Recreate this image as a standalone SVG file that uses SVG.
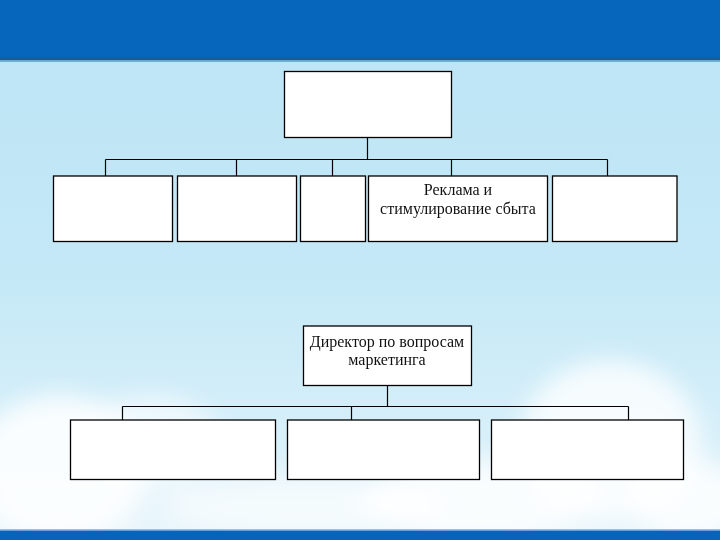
<svg xmlns="http://www.w3.org/2000/svg" width="720" height="540" viewBox="0 0 720 540">
  <defs>
    <linearGradient id="sky" x1="0" y1="0" x2="0" y2="1">
      <stop offset="0" stop-color="#BCE5F6"/>
      <stop offset="0.5" stop-color="#C4E8F6"/>
      <stop offset="0.75" stop-color="#D3EEF9"/>
      <stop offset="1" stop-color="#EAF6FB"/>
    </linearGradient>
    <filter id="blur" x="-30%" y="-30%" width="160%" height="160%">
      <feGaussianBlur stdDeviation="12"/>
    </filter>
    <style>
      .box { fill: #FFFFFF; stroke: #000000; stroke-width: 1.3; }
      .conn { fill: none; stroke: #000000; stroke-width: 1.2; }
      .lbl { font-family: "Liberation Serif", "Times New Roman", serif; font-size: 16px; fill: #111111; text-anchor: middle; }
    </style>
  </defs>

  <!-- background -->
  <rect x="0" y="0" width="720" height="540" fill="url(#sky)"/>
  <g fill="#FFFFFF" filter="url(#blur)">
    <ellipse cx="60" cy="470" rx="90" ry="75" opacity="0.85"/>
    <ellipse cx="150" cy="440" rx="70" ry="45" opacity="0.6"/>
    <ellipse cx="610" cy="440" rx="90" ry="80" opacity="0.8"/>
    <ellipse cx="480" cy="500" rx="120" ry="40" opacity="0.8"/>
    <ellipse cx="300" cy="505" rx="140" ry="30" opacity="0.6"/>
    <ellipse cx="690" cy="500" rx="60" ry="40" opacity="0.8"/>
  </g>
  <rect x="0" y="0" width="720" height="58" fill="#0566BC"/>
  <rect x="0" y="57.5" width="720" height="3" fill="#1A58A0"/>
  <rect x="0" y="60.5" width="720" height="1.5" fill="#6FB0DA"/>
  <rect x="0" y="529" width="720" height="1.5" fill="#8CC8E8"/>
  <rect x="0" y="530.5" width="720" height="9.5" fill="#0A62BA"/>

  <!-- connectors -->
  <g id="connectors" class="conn">
    <path d="M367.5 137.5 V159.5 M105.5 159.5 H607.5 M105.5 159.5 V176 M236.5 159.5 V176 M332.5 159.5 V176 M451.5 159.5 V176 M607.5 159.5 V176"/>
    <path d="M387.5 385.5 V406.5 M122.5 406.5 H628.5 M122.5 406.5 V420 M351.5 406.5 V420 M628.5 406.5 V420"/>
  </g>

  <!-- top level -->
  <g id="top">
    <rect class="box" x="284.5" y="71.5" width="167" height="66"/>
  </g>
  <g id="n1">
    <rect class="box" x="53.5" y="176" width="119" height="65.5"/>
  </g>
  <g id="n2">
    <rect class="box" x="177.5" y="176" width="119" height="65.5"/>
  </g>
  <g id="n3">
    <rect class="box" x="300.5" y="176" width="65" height="65.5"/>
  </g>
  <g id="n4">
    <rect class="box" x="368.5" y="176" width="179" height="65.5"/>
    <text class="lbl" x="458" y="195">Реклама и</text>
    <text class="lbl" x="458" y="214">стимулирование сбыта</text>
  </g>
  <g id="n5">
    <rect class="box" x="552.5" y="176" width="124.5" height="65.5"/>
  </g>

  <!-- bottom section -->
  <g id="director">
    <rect class="box" x="303.5" y="326" width="168" height="59.5"/>
    <text class="lbl" x="387" y="346.5">Директор по вопросам</text>
    <text class="lbl" x="387" y="364.5">маркетинга</text>
  </g>
  <g id="b1">
    <rect class="box" x="70.5" y="420" width="205" height="59.5"/>
  </g>
  <g id="b2">
    <rect class="box" x="287.5" y="420" width="192" height="59.5"/>
  </g>
  <g id="b3">
    <rect class="box" x="491.5" y="420" width="192" height="59.5"/>
  </g>
</svg>
